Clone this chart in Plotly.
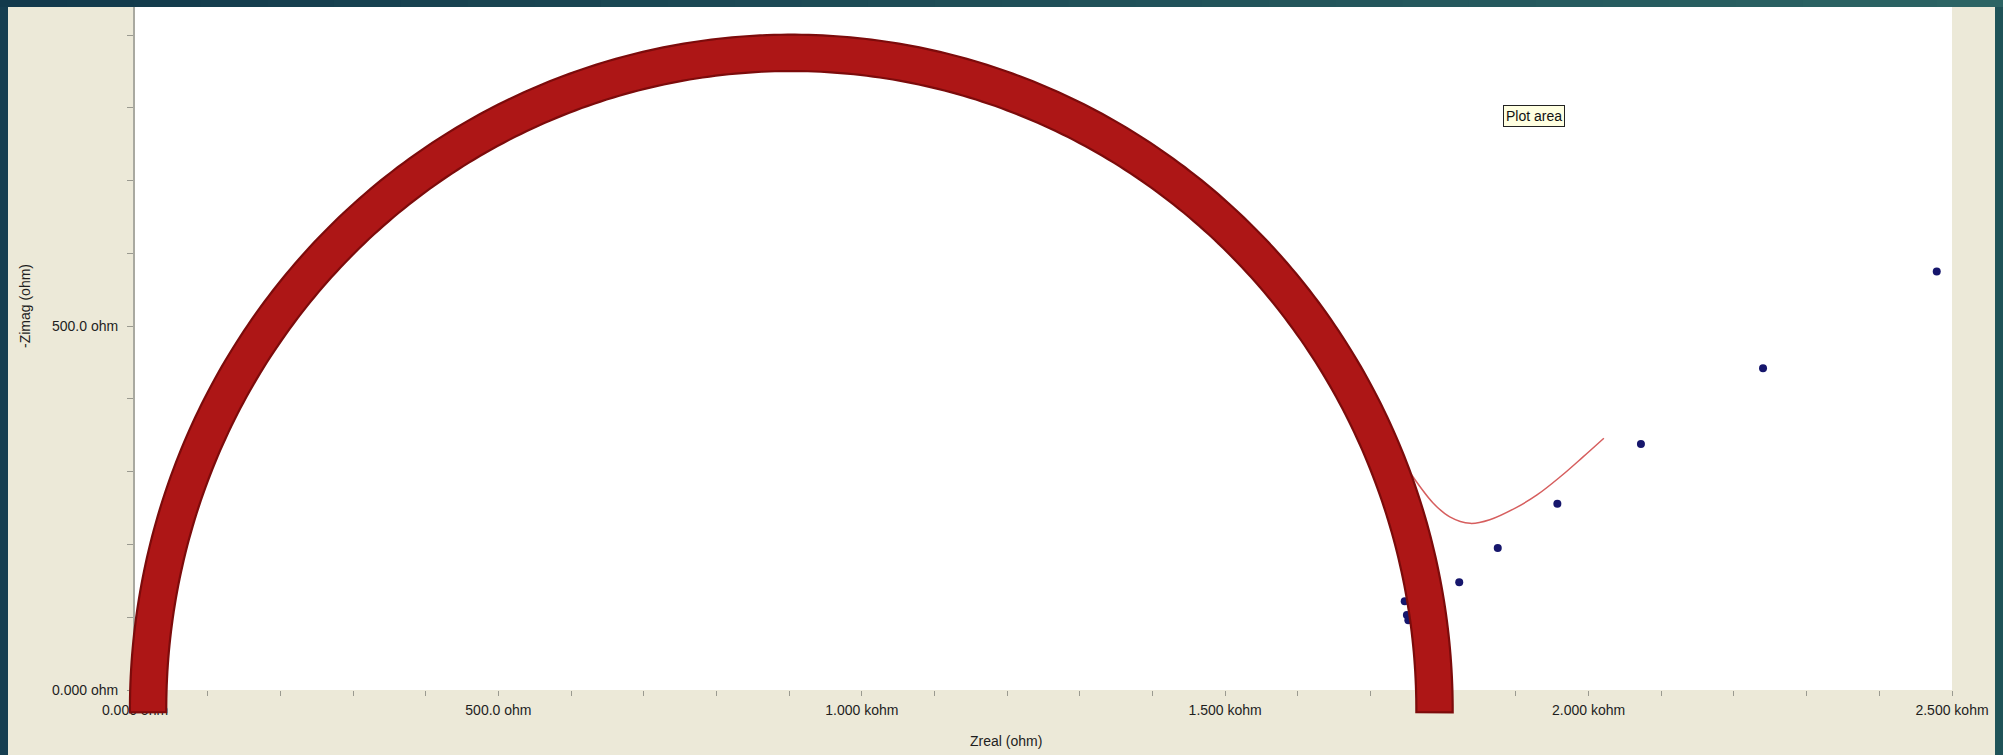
import numpy as np
import plotly.graph_objects as go

# Measured impedance points (ohm)
z_real = [1747, 1750, 1752, 1822, 1875, 1957, 2072, 2240, 2479]
z_imag = [122, 103, 96, 148, 195, 256, 338, 442, 575]

# Fitted model curve (ohm)
fit_real = [1750, 1786, 1809, 1837, 1864, 1901, 1929, 1961, 1992, 2021]
fit_imag = [305, 257, 238, 229, 234, 251, 268, 293, 320, 346]

# Semicircle overlay parameters (ohm)
R_S = 18.0            # series resistance: left intercept
R_CT = 1770.0         # charge-transfer resistance: arc diameter
ARC_HEIGHT = 903.0    # vertical semi-axis of the arc
ARC_DEPRESSION = -27.5
ARC_HALF_WIDTH = 25.0
ARC_START_DEG = 180.2
ARC_END_DEG = -0.2

# Axis settings
X_RANGE = [0, 2500]
Y_RANGE = [0, 938.5]
x_tickvals = [0, 500, 1000, 1500, 2000, 2500]
x_ticktext = ["0.000 ohm", "500.0 ohm", "1.000 kohm", "1.500 kohm", "2.000 kohm", "2.500 kohm"]
y_tickvals = [0, 500]
y_ticktext = ["0.000 ohm", "500.0 ohm"]

W, H = 2003, 755
ML, MR, MT, MB = 135, 51, 7, 65
PW, PH = W - ML - MR, H - MT - MB

BEIGE = "#ECE9D8"
FONT = "Liberation Sans, Arial, sans-serif"
TEXT = "#1e1e1e"
FS = 14


def data_to_paper(x, y):
    px = (x - X_RANGE[0]) / (X_RANGE[1] - X_RANGE[0])
    py = (y - Y_RANGE[0]) / (Y_RANGE[1] - Y_RANGE[0])
    return px, py


def pix_x(X):
    return (X - ML) / PW


def pix_y(Y):
    return (H - MB - Y) / PH


fig = go.Figure()

fig.add_trace(go.Scatter(
    x=fit_real, y=fit_imag, mode="lines",
    line=dict(color="#d65e5e", width=1.5, shape="spline"),
    hoverinfo="skip", showlegend=False,
))

fig.add_trace(go.Scatter(
    x=z_real, y=z_imag, mode="markers",
    marker=dict(color="#16166c", size=8, line=dict(width=0)),
    showlegend=False,
))

# Thick semicircle band built from the arc parameters
cx = R_S + R_CT / 2.0
cy = ARC_DEPRESSION
rx = R_CT / 2.0
ry = ARC_HEIGHT
theta = np.radians(np.linspace(ARC_START_DEG, ARC_END_DEG, 300))
ex, ey = rx * np.cos(theta), ry * np.sin(theta)
# normals of the ellipse, used to offset the band edges evenly
nx, ny = np.cos(theta) / rx, np.sin(theta) / ry
nn = np.hypot(nx, ny)
nx, ny = nx / nn, ny / nn
outer = list(zip(cx + ex + ARC_HALF_WIDTH * nx, cy + ey + ARC_HALF_WIDTH * ny))
inner = list(zip(cx + ex - ARC_HALF_WIDTH * nx, cy + ey - ARC_HALF_WIDTH * ny))[::-1]
pts = [data_to_paper(x, y) for x, y in outer + inner]
path = "M " + " L ".join(f"{px:.5f},{py:.5f}" for px, py in pts) + " Z"

shapes = [dict(
    type="path", path=path, xref="paper", yref="paper",
    fillcolor="#ad1616", line=dict(color="#7c0b0b", width=2.2), layer="above",
)]

# Window frame around the chart
frame_l, frame_r = "#163e50", "#1f5358"
shapes.append(dict(type="rect", xref="paper", yref="paper",
                   x0=pix_x(0), x1=pix_x(8), y0=pix_y(H), y1=pix_y(0),
                   fillcolor=frame_l, line=dict(width=0), layer="above"))
shapes.append(dict(type="rect", xref="paper", yref="paper",
                   x0=pix_x(1995), x1=pix_x(W), y0=pix_y(H), y1=pix_y(0),
                   fillcolor=frame_r, line=dict(width=0), layer="above"))
c0 = np.array([0x13, 0x3a, 0x4c])
c1 = np.array([0x2c, 0x64, 0x64])
n_seg = 30
for i in range(n_seg):
    f = i / (n_seg - 1)
    c = (c0 + (c1 - c0) * f).astype(int)
    shapes.append(dict(type="rect", xref="paper", yref="paper",
                       x0=pix_x(W * i / n_seg), x1=pix_x(W * (i + 1) / n_seg + 1),
                       y0=pix_y(7), y1=pix_y(0),
                       fillcolor=f"rgb({c[0]},{c[1]},{c[2]})", line=dict(width=0), layer="above"))

annotations = [
    dict(text="Zreal (ohm)", xref="paper", yref="paper", x=pix_x(1006), y=pix_y(741),
         showarrow=False, font=dict(family=FONT, size=FS, color=TEXT), xanchor="center", yanchor="middle"),
    dict(text="-Zimag (ohm)", xref="paper", yref="paper", x=pix_x(25), y=pix_y(306),
         showarrow=False, textangle=-90, font=dict(family=FONT, size=FS, color=TEXT),
         xanchor="center", yanchor="middle"),
    dict(text="Plot area", xref="x", yref="y", x=1925, y=789,
         showarrow=False, font=dict(family=FONT, size=FS, color="#111111"),
         bgcolor="#ffffe1", bordercolor="#222222", borderwidth=1, borderpad=2,
         xanchor="center", yanchor="middle"),
]

fig.update_layout(
    template="none",
    width=W, height=H,
    margin=dict(l=ML, r=MR, t=MT, b=MB, pad=0),
    paper_bgcolor=BEIGE, plot_bgcolor="white",
    font=dict(family=FONT, size=FS, color=TEXT),
    shapes=shapes, annotations=annotations,
    showlegend=False,
    xaxis=dict(
        range=X_RANGE, autorange=False, automargin=False,
        tickvals=x_tickvals, ticktext=x_ticktext,
        ticks="outside", ticklen=5, tickwidth=1, tickcolor="#9a9a90",
        minor=dict(dtick=100, tick0=0, ticks="outside", ticklen=5, tickwidth=1, tickcolor="#9a9a90"),
        showgrid=False, zeroline=False, showline=False,
        ticklabelstandoff=2,
        tickfont=dict(family=FONT, size=FS, color=TEXT),
    ),
    yaxis=dict(
        range=Y_RANGE, autorange=False, automargin=False,
        tickvals=y_tickvals, ticktext=y_ticktext,
        ticks="outside", ticklen=6, tickwidth=1, tickcolor="#9a9a90",
        minor=dict(dtick=100, tick0=0, ticks="outside", ticklen=6, tickwidth=1, tickcolor="#9a9a90"),
        showgrid=False, zeroline=False,
        showline=True, linecolor="#a9a9a0", linewidth=2,
        ticklabelstandoff=6,
        tickfont=dict(family=FONT, size=FS, color=TEXT),
    ),
)

fig.write_html("out.html")
